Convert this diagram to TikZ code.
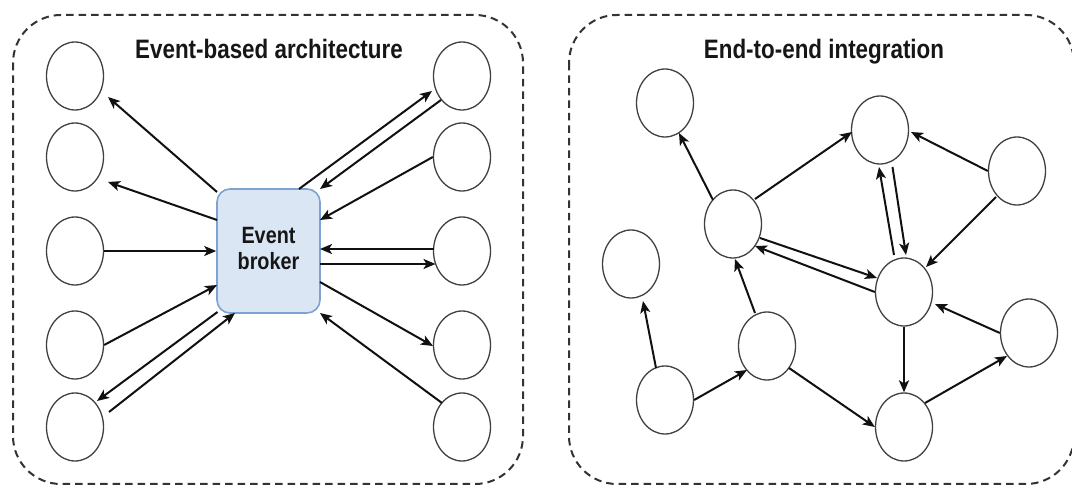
\documentclass[tikz,border=0pt]{standalone}
\usepackage{fontspec}
\usepackage{graphicx}
\setmainfont{Liberation Sans}
\usetikzlibrary{shapes.geometric,arrows.meta}
\definecolor{edgec}{HTML}{111111}
\definecolor{nodec}{HTML}{404040}
\definecolor{panelc}{HTML}{333333}
\definecolor{brokerf}{HTML}{DAE6F3}
\definecolor{brokerd}{HTML}{7EA3D3}
\definecolor{textc}{HTML}{161616}
\begin{document}
\begin{tikzpicture}[x=1pt,y=-1pt,
  panel/.style={draw=panelc, line width=2pt, dash pattern=on 7.5pt off 5pt, rounded corners=48pt},
  nd/.style={ellipse, draw=nodec, line width=1.3pt, minimum width=57pt, minimum height=68pt, inner sep=0pt},
  broker/.style={draw=brokerd, fill=brokerf, line width=1.6pt, rounded corners=13pt,
    minimum width=103pt, minimum height=124pt, inner sep=0pt,
    font=\fontsize{19.8}{22.4}\selectfont\bfseries, text=textc},
  arr/.style={draw=edgec, line width=2pt, -{Stealth[length=12pt,width=10pt,inset=3pt]}},
  ttl/.style={font=\fontsize{22.4}{26}\selectfont\bfseries, text=textc, inner sep=0pt, anchor=base}
]
\clip (0,0) rectangle (1072,486);
% panels
\draw[panel] (13,15) rectangle (523,484);
\draw[panel] (569,15) rectangle (1074,484);
% titles
\node[ttl] (t1) at (269,59) {\scalebox{1}[1.19]{Event-based architecture}};
\node[ttl] (t2) at (824,59) {\scalebox{1}[1.19]{End-to-end integration}};
% left panel nodes
\node[nd] (L1) at (75,76) {};
\node[nd] (L2) at (75,157) {};
\node[nd] (L3) at (75,251) {};
\node[nd] (L4) at (75,345) {};
\node[nd] (L5) at (75,427) {};
\node[nd] (R1) at (462,76) {};
\node[nd] (R2) at (462,157) {};
\node[nd] (R3) at (462,251) {};
\node[nd] (R4) at (462,345) {};
\node[nd] (R5) at (462,427) {};
\node[broker] (EB) at (268.5,251) {\scalebox{1}[1.19]{\begin{tabular}{@{}c@{}}Event\\broker\end{tabular}}};
% left panel edges
\draw[arr] ([shift={(-51.5,-59)}]EB.center) -- ([shift={(33,21)}]L1.center);
\draw[arr] ([shift={(-51.5,-31)}]EB.center) -- ([shift={(33,25)}]L2.center);
\draw[arr] (L3) -- (EB);
\draw[arr] (L4.east) -- ([shift={(-51.5,34)}]EB.center);
\draw[arr] ([shift={(-51,61)}]EB.center) -- ([shift={(22,-26)}]L5.center);
\draw[arr] ([shift={(34,-15)}]L5.center) -- ([shift={(-33.5,62)}]EB.center);
\draw[arr] ([shift={(30.5,-62)}]EB.center) -- ([shift={(-30,15)}]R1.center);
\draw[arr] ([shift={(-21,24)}]R1.center) -- ([shift={(51.5,-62)}]EB.center);
\draw[arr] (R2.west) -- ([shift={(51.5,-31)}]EB.center);
\draw[arr] ([shift={(-28.5,-2)}]R3.center) -- ([shift={(51.5,-2)}]EB.center);
\draw[arr] ([shift={(51.5,13)}]EB.center) -- ([shift={(-26.5,13)}]R3.center);
\draw[arr] ([shift={(51.5,31)}]EB.center) -- ([shift={(-29,1)}]R4.center);
\draw[arr] ([shift={(-20,-24)}]R5.center) -- ([shift={(51.5,62)}]EB.center);
% right panel nodes
\node[nd] (A) at (665,103) {};
\node[nd] (B) at (880,130) {};
\node[nd] (C) at (1017,171) {};
\node[nd] (D) at (733,224) {};
\node[nd] (E) at (631,264) {};
\node[nd] (F) at (904,292) {};
\node[nd] (G) at (1029,333) {};
\node[nd] (H) at (767,346) {};
\node[nd] (I) at (665,400) {};
\node[nd] (J) at (904,427) {};
% right panel edges
\draw[arr] ([shift={(-20,-24)}]D.center) -- ([shift={(14,30)}]A.center);
\draw[arr] ([shift={(22,-25)}]D.center) -- ([shift={(-28,2)}]B.center);
\draw[arr] (C.west) -- ([shift={(31,2)}]B.center);
\draw[arr] ([shift={(-21,26)}]C.center) -- ([shift={(22,-25)}]F.center);
\draw[arr] ([shift={(-10,-37)}]F.center) -- ([shift={(-1,37)}]B.center);
\draw[arr] ([shift={(12.5,37)}]B.center) -- ([shift={(2,-37)}]F.center);
\draw[arr] ([shift={(27,14)}]D.center) -- ([shift={(-27,-14)}]F.center);
\draw[arr] (F.west) -- ([shift={(22,22)}]D.center);
\draw[arr] ([shift={(-12,-33)}]H.center) -- ([shift={(2,35)}]D.center);
\draw[arr] ([shift={(-9,-32)}]I.center) -- ([shift={(12,37)}]E.center);
\draw[arr] (I.east) -- ([shift={(-20,24)}]H.center);
\draw[arr] ([shift={(22,22)}]H.center) -- (J.west);
\draw[arr] (F.south) -- (J.north);
\draw[arr] ([shift={(21,-24)}]J.center) -- ([shift={(-22,23)}]G.center);
\draw[arr] (G.west) -- ([shift={(31,12)}]F.center);
\end{tikzpicture}
\end{document}
